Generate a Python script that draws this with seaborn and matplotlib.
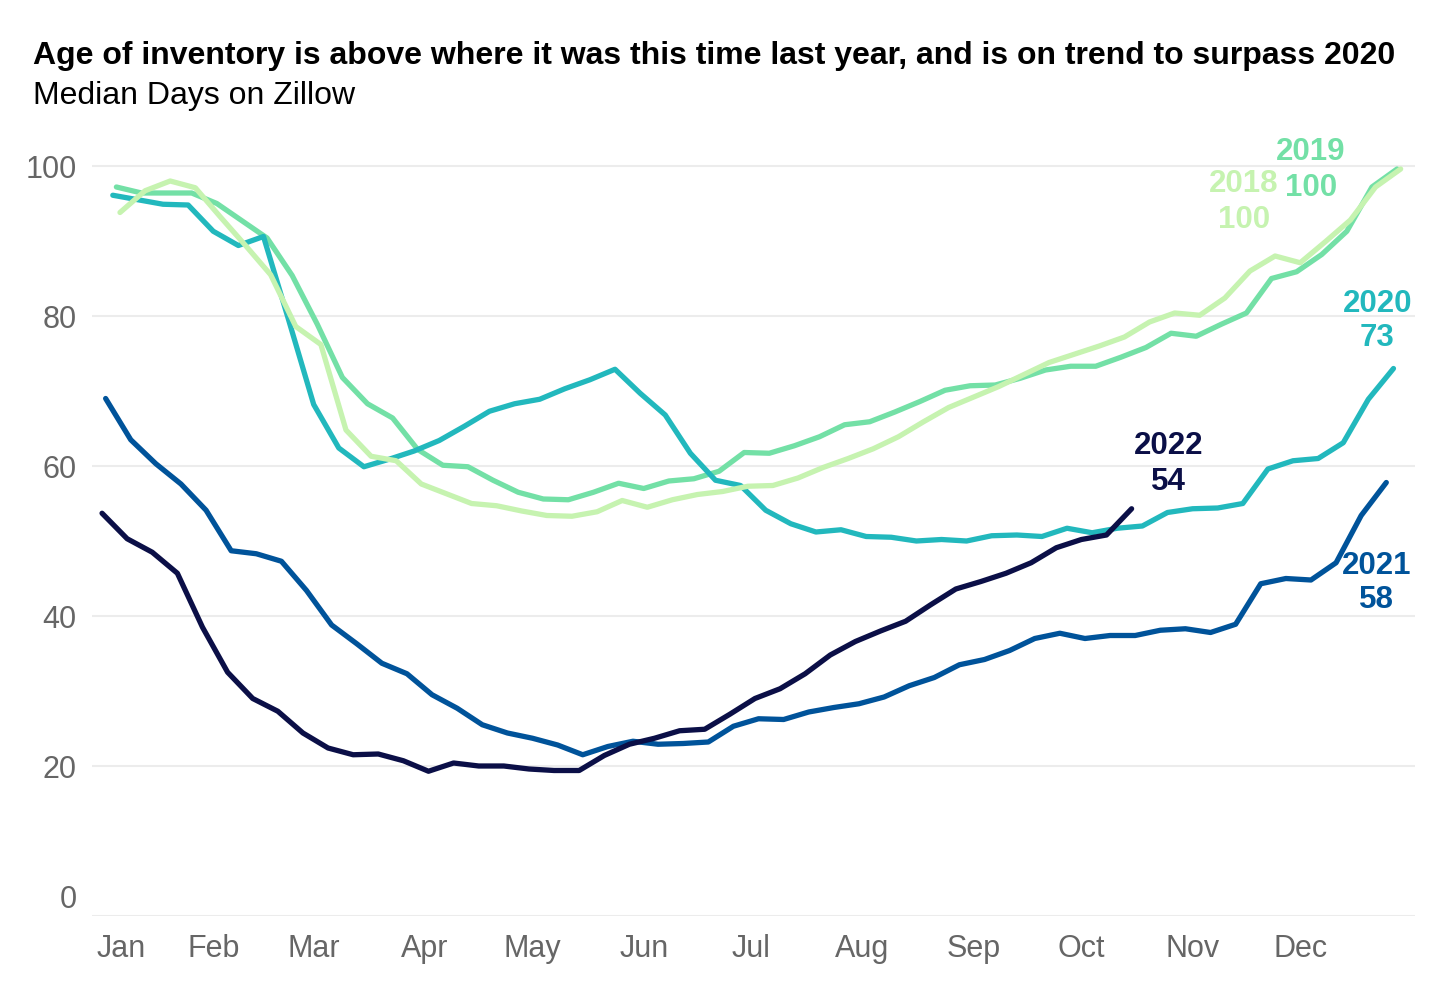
import numpy as np
import pandas as pd
import matplotlib
matplotlib.use("Agg")
import matplotlib.pyplot as plt
import seaborn as sns
from matplotlib.transforms import ScaledTranslation

# ---------------- data (median days on Zillow, weekly) ----------------
years = ["2018", "2019", "2020", "2021", "2022"]

vals_2018 = [93.8, 96.7, 98.0, 97.1, 93.2, 89.4, 85.5, 78.6, 76.2, 64.8, 61.3, 60.7, 57.6,
             56.3, 55.0, 54.7, 54.0, 53.4, 53.3, 53.9, 55.4, 54.5, 55.5, 56.2, 56.6, 57.3,
             57.4, 58.4, 59.8, 61.0, 62.3, 63.9, 65.9, 67.8, 69.2, 70.6, 72.2, 73.8, 74.9,
             76.0, 77.2, 79.2, 80.4, 80.1, 82.4, 86.0, 88.0, 87.1, 89.9, 92.8, 97.2, 99.6]
vals_2019 = [97.2, 96.4, 96.4, 96.4, 95.0, 92.7, 90.4, 85.4, 78.9, 71.8, 68.3, 66.4, 62.2,
             60.1, 59.9, 58.1, 56.5, 55.6, 55.5, 56.5, 57.7, 57.0, 58.0, 58.3, 59.3, 61.8,
             61.7, 62.7, 63.9, 65.5, 65.9, 67.2, 68.6, 70.1, 70.7, 70.8, 71.7, 72.8, 73.3,
             73.3, 74.5, 75.8, 77.7, 77.3, 78.9, 80.4, 85.0, 85.9, 88.2, 91.3, 97.2, 99.6]
vals_2020 = [96.1, 95.5, 94.9, 94.8, 91.3, 89.4, 90.6, 79.5, 68.2, 62.4, 59.9, 60.9, 62.0,
             63.4, 65.3, 67.3, 68.3, 68.9, 70.3, 71.5, 72.9, 69.7, 66.8, 61.7, 58.1, 57.4,
             54.1, 52.3, 51.2, 51.5, 50.6, 50.5, 50.0, 50.2, 50.0, 50.7, 50.8, 50.6, 51.7,
             51.1, 51.7, 52.0, 53.8, 54.3, 54.4, 55.0, 59.6, 60.7, 61.0, 63.1, 68.9, 73.0]
vals_2021 = [69.0, 63.5, 60.3, 57.6, 54.1, 48.7, 48.3, 47.3, 43.4, 38.8, 36.3, 33.7, 32.3,
             29.5, 27.7, 25.5, 24.4, 23.7, 22.8, 21.5, 22.6, 23.3, 22.9, 23.0, 23.2, 25.3,
             26.3, 26.2, 27.2, 27.8, 28.3, 29.2, 30.7, 31.8, 33.5, 34.2, 35.4, 37.0, 37.7,
             37.0, 37.4, 37.4, 38.1, 38.3, 37.8, 38.9, 44.3, 45.0, 44.8, 47.1, 53.4, 57.8]
vals_2022 = [53.7, 50.3, 48.5, 45.7, 38.5, 32.5, 29.0, 27.3, 24.4, 22.4, 21.5, 21.6, 20.7,
             19.3, 20.4, 20.0, 20.0, 19.6, 19.4, 19.4, 21.4, 22.9, 23.7, 24.7, 24.9, 26.9,
             29.0, 30.3, 32.3, 34.8, 36.6, 38.0, 39.3, 41.5, 43.6, 44.6, 45.7, 47.1, 49.1,
             50.2, 50.8, 54.3]

end_labels = {"2018": "100", "2019": "100", "2020": "73", "2021": "58", "2022": "54"}

month_labels = ["Jan", "Feb", "Mar", "Apr", "May", "Jun",
                "Jul", "Aug", "Sep", "Oct", "Nov", "Dec"]

title = "Age of inventory is above where it was this time last year, and is on trend to surpass 2020"
subtitle = "Median Days on Zillow"

colors = {"2018": "#c6f3b0", "2019": "#73e0a6", "2020": "#22b8bd",
          "2021": "#00539a", "2022": "#0b0f47"}

# ---------------- build long-form table ----------------
series = {"2018": vals_2018, "2019": vals_2019, "2020": vals_2020,
          "2021": vals_2021, "2022": vals_2022}
frames = []
for y, v in series.items():
    dates = pd.date_range(f"{y}-01-01", periods=len(v), freq="W-SAT")
    frames.append(pd.DataFrame({"year": y, "day": dates.dayofyear - 1, "days": v}))
df = pd.concat(frames, ignore_index=True)

# ---------------- figure ----------------
sns.set_theme(style="white")
plt.rcParams["font.family"] = ["Liberation Sans", "DejaVu Sans"]

fig, ax = plt.subplots(figsize=(14.4, 10), dpi=100)
fig.subplots_adjust(left=92 / 1440, right=1415 / 1440, bottom=84 / 1000, top=(1000 - 151) / 1000)

draw_order = ["2019", "2020", "2021", "2022", "2018"]
sns.lineplot(data=df, x="day", y="days", hue="year", hue_order=draw_order,
             palette=colors, linewidth=3.8, estimator=None, sort=False,
             legend=False, ax=ax)
for ln in ax.get_lines():
    ln.set_solid_capstyle("round")
    ln.set_solid_joinstyle("round")

ax.set_xlim(-2.8, 366)
ax.set_ylim(0, 102)
for s in ax.spines.values():
    s.set_visible(False)

ax.set_yticks([0, 20, 40, 60, 80, 100])
ax.yaxis.grid(True, color="#ececec", linewidth=1.5)
ax.xaxis.grid(False)
ax.set_axisbelow(True)
ax.tick_params(axis="y", length=7, width=1.5, color="#ececec", pad=4,
               labelsize=22, labelcolor="#666666")

month_starts = pd.date_range("2022-01-01", periods=13, freq="MS").dayofyear.values - 1
month_starts[-1] = 365
ax.set_xticks(month_starts)
ax.set_xticklabels(month_labels + [""])
ax.tick_params(axis="x", length=5, width=1, color="#dddddd", pad=8,
               labelsize=22, labelcolor="#666666")
ax.set_xlabel("")
ax.set_ylabel("")

# shift first labels as in the reference
xl = ax.get_xticklabels()[0]
xl.set_transform(xl.get_transform() + ScaledTranslation(0.19, 0, fig.dpi_scale_trans))
yl = ax.get_yticklabels()[0]
yl.set_transform(yl.get_transform() + ScaledTranslation(0, 0.19, fig.dpi_scale_trans))

# ---------------- end labels ----------------
offsets = {  # (dx, dy_year, dy_value) in pixels
    "2018": (-157, -15, -51),
    "2019": (-86, 17, -19),
    "2020": (-16, 65, 30),
    "2021": (-10, -84, -118),
    "2022": (37, 63, 27),
}
for y in years:
    sub = df[df["year"] == y]
    lx, ly = sub["day"].iloc[-1], sub["days"].iloc[-1]
    dx, dy1, dy2 = offsets[y]
    ax.annotate(y, xy=(lx, ly), xytext=(dx, dy1), textcoords="offset pixels",
                ha="center", va="center", fontsize=22.5, fontweight="bold",
                color=colors[y], annotation_clip=False)
    ax.annotate(end_labels[y], xy=(lx, ly), xytext=(dx, dy2), textcoords="offset pixels",
                ha="center", va="center", fontsize=22.5, fontweight="bold",
                color=colors[y], annotation_clip=False)

# ---------------- titles ----------------
fig.text(33 / 1440, 1 - 64 / 1000, title, fontsize=23, fontweight="bold",
         color="black", ha="left", va="baseline")
fig.text(33 / 1440, 1 - 104 / 1000, subtitle, fontsize=23,
         color="black", ha="left", va="baseline")

fig.savefig("out.png", dpi=100)
